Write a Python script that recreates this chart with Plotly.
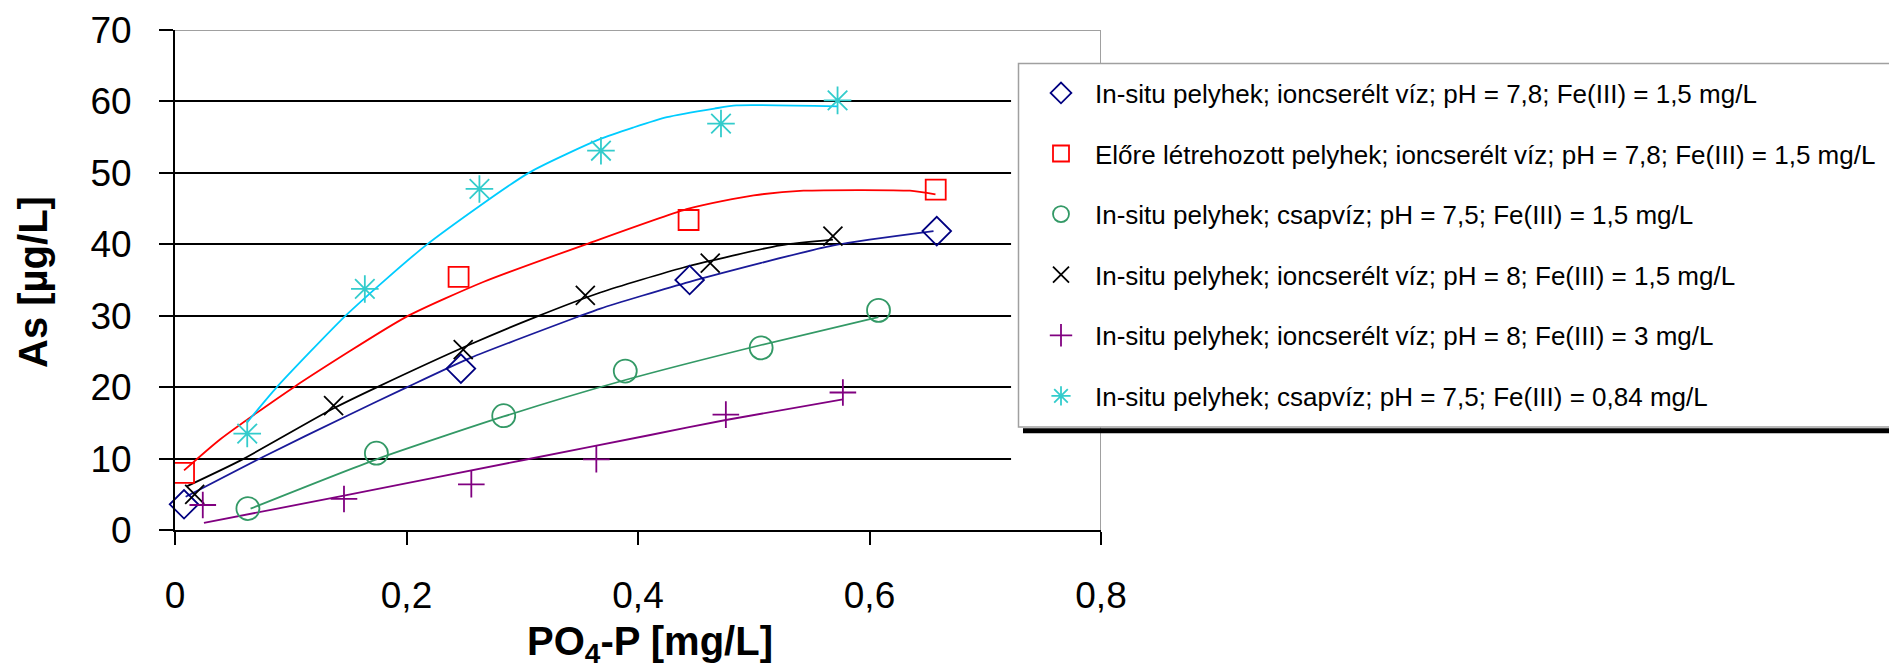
import plotly.graph_objects as go

# ---- data ----
x_ticks = [0, 0.2, 0.4, 0.6, 0.8]
x_ticklabels = ["0", "0,2", "0,4", "0,6", "0,8"]
y_ticks = [0, 10, 20, 30, 40, 50, 60, 70]
y_ticklabels = ["0", "10", "20", "30", "40", "50", "60", "70"]

names = [
    "In-situ pelyhek; ioncserélt víz; pH = 7,8; Fe(III) = 1,5 mg/L",
    "Előre létrehozott pelyhek; ioncserélt víz; pH = 7,8; Fe(III) = 1,5 mg/L",
    "In-situ pelyhek; csapvíz; pH = 7,5; Fe(III) = 1,5 mg/L",
    "In-situ pelyhek; ioncserélt víz; pH = 8; Fe(III) = 1,5 mg/L",
    "In-situ pelyhek; ioncserélt víz; pH = 8; Fe(III) = 3 mg/L",
    "In-situ pelyhek; csapvíz; pH = 7,5; Fe(III) = 0,84 mg/L",
]

blue_x = [0.0078, 0.247, 0.4446, 0.6581]
blue_y = [3.6, 22.6, 35.0, 41.85]
red_x = [0.0078, 0.245, 0.4437, 0.6572]
red_y = [8.0, 35.45, 43.4, 47.65]
green_x = [0.063, 0.174, 0.284, 0.389, 0.5064, 0.6078]
green_y = [3.0, 10.75, 16.0, 22.25, 25.5, 30.75]
black_x = [0.017, 0.137, 0.249, 0.3545, 0.4624, 0.5684]
black_y = [5.0, 17.4, 25.25, 32.85, 37.35, 41.15]
purple_x = [0.024, 0.146, 0.256, 0.364, 0.4759, 0.577]
purple_y = [3.5, 4.35, 6.4, 9.9, 16.15, 19.25]
cyan_x = [0.0624, 0.164, 0.263, 0.368, 0.4717, 0.5724]
cyan_y = [13.5, 33.75, 47.75, 53.1, 56.9, 60.15]

# trend curves
blue_fit_x = [0.0092, 0.0768, 0.1488, 0.2006, 0.2553, 0.3473, 0.3675, 0.4446, 0.569, 0.6553]
blue_fit_y = [4.65, 10.3, 16.0, 20.0, 24.1, 29.8, 31.0, 34.75, 39.85, 41.85]
red_fit_x = [0.0078, 0.0394, 0.1027, 0.1994, 0.2668, 0.355, 0.4437, 0.5, 0.543, 0.635, 0.657]
red_fit_y = [8.35, 12.75, 20.0, 29.8, 34.75, 40.0, 45.0, 46.85, 47.5, 47.5, 47.0]
green_fit_x = [0.0653, 0.174, 0.284, 0.389, 0.5064, 0.6077]
green_fit_y = [3.0, 9.9, 15.9, 21.0, 25.9, 29.8]
black_fit_x = [0.0106, 0.0567, 0.1367, 0.1747, 0.2553, 0.3114, 0.3675, 0.4394, 0.5229, 0.5684]
black_fit_y = [6.15, 9.75, 17.0, 20.0, 26.0, 29.8, 33.25, 36.75, 39.85, 40.65]
purple_fit_x = [0.025, 0.146, 0.3013, 0.4106, 0.4759, 0.577]
purple_fit_y = [1.0, 4.8, 9.8, 13.3, 15.4, 18.3]
cyan_fit_x = [0.062, 0.088, 0.149, 0.2167, 0.3056, 0.3675, 0.396, 0.425, 0.466, 0.485, 0.5724]
cyan_fit_y = [15.0, 20.0, 30.25, 39.85, 50.0, 54.75, 56.35, 57.8, 59.0, 59.45, 59.3]

FONT = "Liberation Sans, Arial, sans-serif"

series = [
    (blue_x, blue_y, blue_fit_x, blue_fit_y, "#000080", "#1a1a99", "diamond-open", 22),
    (red_x, red_y, red_fit_x, red_fit_y, "#FF0000", "#FF0000", "square-open", 20),
    (green_x, green_y, green_fit_x, green_fit_y, "#339966", "#339966", "circle-open", 23),
    (black_x, black_y, black_fit_x, black_fit_y, "#000000", "#000000", "x-thin-open", 19),
    (purple_x, purple_y, purple_fit_x, purple_fit_y, "#800080", "#800080", "cross-thin-open", 19),
    (cyan_x, cyan_y, cyan_fit_x, cyan_fit_y, "#33CCCC", "#00CCFF", "asterisk-open", 23),
]

fig = go.Figure()
for i, (mx, my, fx, fy, mcol, lcol, sym, size) in enumerate(series):
    grp = "g%d" % i
    fig.add_trace(go.Scatter(
        x=fx, y=fy, mode="lines", line=dict(color=lcol, width=1.8, shape="spline", smoothing=0.6),
        showlegend=False, legendgroup=grp, hoverinfo="skip"))
for i, (mx, my, fx, fy, mcol, lcol, sym, size) in enumerate(series):
    grp = "g%d" % i
    fig.add_trace(go.Scatter(
        x=mx, y=my, mode="markers", name=names[i], legendgroup=grp,
        marker=dict(symbol=sym, size=size, color=mcol, line=dict(color=mcol, width=1.8)),
        cliponaxis=False))

PW, PH, L, T = 926, 500, 175, 30


def px_x(p):
    return (p - L) / PW


def px_y(p):
    return (T + PH - p) / PH


fig.update_layout(
    width=1889, height=665,
    margin=dict(l=L, r=1889 - L - PW, t=T, b=665 - T - PH, autoexpand=False),
    paper_bgcolor="white", plot_bgcolor="white",
    font=dict(family=FONT, color="black"),
    showlegend=True,
    legend=dict(
        x=px_x(1027), y=px_y(69.5), xanchor="left", yanchor="top",
        bgcolor="rgba(0,0,0,0)", borderwidth=0,
        font=dict(family=FONT, size=26, color="black"),
        itemwidth=58, tracegroupgap=23.8, itemsizing="trace",
    ),
    xaxis=dict(
        range=[0, 0.8], tickvals=x_ticks, ticktext=x_ticklabels,
        ticks="outside", ticklen=13, tickwidth=2, tickcolor="black",
        showline=True, linecolor="black", linewidth=2,
        showgrid=False, zeroline=False,
        tickfont=dict(family=FONT, size=37, color="black"),
        ticklabelstandoff=19,
    ),
    yaxis=dict(
        range=[0, 70], tickvals=y_ticks, ticktext=y_ticklabels,
        ticks="outside", ticklen=14, tickwidth=2, tickcolor="black",
        showline=True, linecolor="black", linewidth=2,
        showgrid=True, gridcolor="black", gridwidth=2, zeroline=False,
        tickfont=dict(family=FONT, size=37, color="black"),
        ticklabelstandoff=20,
    ),
    shapes=[
        # white area hiding grid ends (as in the reference)
        dict(type="rect", xref="x", yref="y", x0=0.7223, x1=0.8, y0=5, y1=65,
             fillcolor="white", line=dict(width=0), layer="between"),
        # grey plot frame: top and right
        dict(type="line", xref="x", yref="y", x0=0, x1=0.8, y0=70, y1=70,
             line=dict(color="#A0A0A0", width=2), layer="above"),
        dict(type="line", xref="x", yref="y", x0=0.8, x1=0.8, y0=0, y1=70,
             line=dict(color="#A0A0A0", width=2), layer="above"),
        # legend box
        dict(type="rect", xref="paper", yref="paper",
             x0=px_x(1018.5), x1=px_x(1950), y0=px_y(427), y1=px_y(63.5),
             fillcolor="white", line=dict(color="#A0A0A0", width=1.5), layer="above"),
        # legend shadow
        dict(type="rect", xref="paper", yref="paper",
             x0=px_x(1023), x1=px_x(1950), y0=px_y(433.3), y1=px_y(428.3),
             fillcolor="black", line=dict(width=0), layer="above"),
    ],
    annotations=[
        dict(text="<b>As [µg/L]</b>", xref="paper", yref="paper",
             x=px_x(33), y=px_y(282), xanchor="center", yanchor="middle",
             textangle=-90, showarrow=False, font=dict(family=FONT, size=40, color="black")),
        dict(text="<b>PO<sub>4</sub>-P [mg/L]</b>", xref="paper", yref="paper",
             x=px_x(650), y=px_y(644), xanchor="center", yanchor="middle",
             showarrow=False, font=dict(family=FONT, size=40, color="black")),
    ],
)

fig.write_html("out.html")
